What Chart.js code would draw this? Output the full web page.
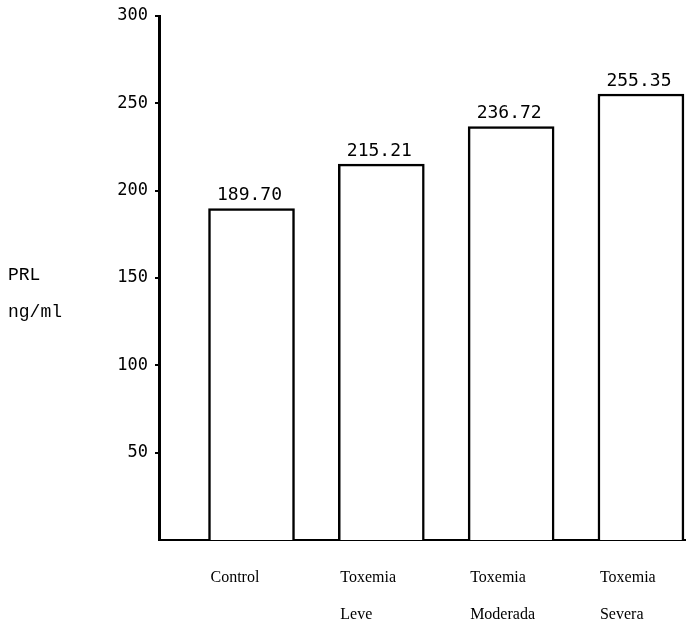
<!DOCTYPE html>
<html>
<head>
<meta charset="utf-8">
<script src="https://cdn.jsdelivr.net/npm/chart.js@4"></script>
<style>
  html, body { margin: 0; padding: 0; background: #fff; }
  #c { display: block; }
</style>
</head>
<body>
<canvas id="c" width="686" height="622"></canvas>
<script>
// Mean prolactin (PRL, ng/ml) per study group
const groups = [['Control'], ['Toxemia', 'Leve'], ['Toxemia', 'Moderada'], ['Toxemia', 'Severa']];
const prlMeans = [189.70, 215.21, 236.72, 255.35];
const yTicks = [50, 100, 150, 200, 250, 300];
const unitLabel = ['PRL', 'ng/ml'];

const ink = '#000';

// Numeric value printed above each bar
const valueLabels = {
  id: 'valueLabels',
  afterDatasetsDraw(chart) {
    const ctx = chart.ctx;
    const meta = chart.getDatasetMeta(0);
    ctx.save();
    ctx.font = '18px "DejaVu Sans Mono"';
    ctx.fillStyle = ink;
    ctx.textAlign = 'center';
    ctx.textBaseline = 'bottom';
    meta.data.forEach((bar, i) => {
      ctx.fillText(prlMeans[i].toFixed(2), bar.x - 2, bar.y - 4);
    });
    ctx.restore();
  }
};

// Horizontal unit label left of the value axis
const unitTitle = {
  id: 'unitTitle',
  afterDraw(chart) {
    const ctx = chart.ctx;
    ctx.save();
    ctx.font = '18px "Liberation Mono"';
    ctx.fillStyle = ink;
    ctx.textAlign = 'left';
    ctx.textBaseline = 'alphabetic';
    ctx.fillText(unitLabel[0], 8, 280);
    ctx.fillText(unitLabel[1], 8, 317);
    ctx.restore();
  }
};

new Chart(document.getElementById('c'), {
  type: 'bar',
  data: {
    datasets: [{
      data: prlMeans.map((v, i) => ({ x: i, y: v })),
      backgroundColor: '#fff',
      borderColor: ink,
      borderWidth: 2.5,
      barThickness: 86
    }]
  },
  options: {
    responsive: false,
    animation: false,
    layout: { padding: { top: 16, left: 0, right: 0, bottom: 0 } },
    plugins: {
      legend: { display: false },
      tooltip: { enabled: false }
    },
    scales: {
      x: {
        type: 'linear',
        offset: false,
        min: -0.7126,
        max: 3.347,
        grid: { display: false, drawTicks: false, offset: false },
        border: { display: true, color: ink, width: 2 },
        afterBuildTicks(scale) {
          scale.ticks = groups.map((g, i) => ({ value: i }));
        },
        afterFit(scale) {
          scale.height = 82;
          scale.paddingLeft = 0;
          scale.paddingRight = 0;
        },
        ticks: {
          autoSkip: false,
          maxRotation: 0,
          minRotation: 0,
          align: 'start',
          labelOffset: -41,
          padding: 19,
          color: ink,
          font: { family: '"Liberation Serif"', size: 16, lineHeight: '37px' },
          callback: (value) => groups[value]
        }
      },
      y: {
        min: 0,
        max: 300,
        grid: { display: true, drawOnChartArea: false, drawTicks: true, tickLength: 4, color: ink, lineWidth: 2 },
        border: { display: true, color: ink, width: 3 },
        afterBuildTicks(scale) {
          scale.ticks = yTicks.map(v => ({ value: v }));
        },
        afterFit(scale) {
          scale.width = 159;
          scale.paddingTop = 0;
          scale.paddingBottom = 0;
        },
        ticks: {
          padding: 7,
          color: ink,
          font: { family: '"DejaVu Sans Mono"', size: 17 }
        }
      }
    }
  },
  plugins: [valueLabels, unitTitle]
});
</script>
</body>
</html>
